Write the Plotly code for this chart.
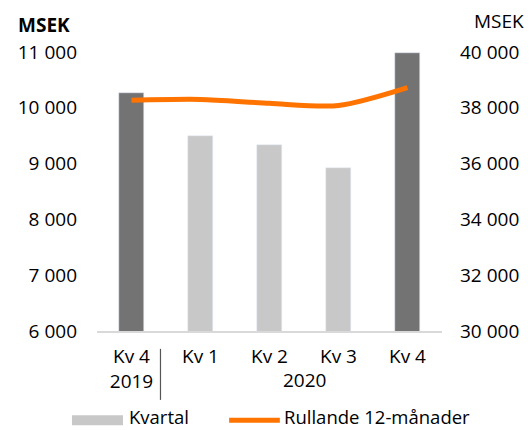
import plotly.graph_objects as go

categories = ["Kv 4<br>2019", "Kv 1", "Kv 2", "Kv 3", "Kv 4"]
year_label_2020 = "2020"
kvartal = [10270, 9500, 9330, 8920, 10990]
rullande = [38270, 38300, 38160, 38080, 38720]
bar_colors = ["#737373", "#c8c8c8", "#c8c8c8", "#c8c8c8", "#737373"]
left_ticks = [6000, 7000, 8000, 9000, 10000, 11000]
right_ticks = [30000, 32000, 34000, 36000, 38000, 40000]

def fmt(v):
    return f"{v:,}".replace(",", " ")

FONT = "Open Sans"
FS = 19
x_idx = list(range(len(categories)))

fig = go.Figure()
fig.add_trace(go.Bar(x=x_idx, y=kvartal, marker_color=bar_colors, width=0.36,
                     name="Kvartal", showlegend=False))
fig.add_trace(go.Scatter(x=x_idx, y=rullande, yaxis="y2", mode="lines",
                         line=dict(color="#ff7300", width=5, shape="spline", smoothing=0.8),
                         name="Rullande 12-månader", showlegend=False))

fig.update_layout(
    width=531, height=430,
    margin=dict(l=97, r=89, t=52, b=99, autoexpand=False),
    showlegend=False,
    paper_bgcolor="white", plot_bgcolor="white",
    font=dict(family=FONT, size=FS, color="#000000"),
    xaxis=dict(range=[-0.5, 4.5], tickvals=x_idx, ticktext=categories,
               showline=True, linecolor="#d9d9d9", linewidth=2, automargin=False,
               showgrid=False, zeroline=False, ticks="", ticklabelstandoff=7,
               fixedrange=True),
    yaxis=dict(range=[6000, 11000], tickvals=left_ticks, automargin=False,
               ticktext=[fmt(v) for v in left_ticks],
               showgrid=False, zeroline=False, showline=False,
               ticklabelstandoff=19),
    yaxis2=dict(range=[30000, 40000], tickvals=right_ticks, automargin=False,
                ticktext=[fmt(v) for v in right_ticks],
                overlaying="y", side="right",
                showgrid=False, zeroline=False, showline=False,
                ticklabelstandoff=17),
    bargap=0,
)

annotations = [
    dict(text="<b>MSEK</b>", xref="paper", yref="paper", x=-0.235, y=1.095,
         xanchor="left", yanchor="middle", showarrow=False, font=dict(size=FS)),
    dict(text="MSEK", xref="paper", yref="paper", x=1.244, y=1.111,
         xanchor="right", yanchor="middle", showarrow=False, font=dict(size=FS)),
    dict(text=year_label_2020, xref="x", yref="paper", x=2.5, y=-0.176,
         xanchor="center", yanchor="middle", showarrow=False, font=dict(size=FS)),
    dict(text="Kvartal", xref="paper", yref="paper", x=0.088, y=-0.308,
         xanchor="left", yanchor="middle", showarrow=False, font=dict(size=18.5)),
    dict(text="Rullande 12-månader", xref="paper", yref="paper", x=0.536, y=-0.308,
         xanchor="left", yanchor="middle", showarrow=False, font=dict(size=18.5)),
]
fig.update_layout(annotations=annotations)

shapes = [
    dict(type="line", xref="x", yref="paper", x0=0.42, x1=0.42, y0=-0.064, y1=-0.247,
         line=dict(color="#555555", width=1.2)),
    dict(type="rect", xref="paper", yref="paper", x0=-0.0725, x1=0.0754,
         y0=-0.302, y1=-0.338, fillcolor="#c8c8c8", line=dict(width=0)),
    dict(type="line", xref="paper", yref="paper", x0=0.383, x1=0.53,
         y0=-0.32, y1=-0.32, line=dict(color="#ff7300", width=5, )),
]
fig.update_layout(shapes=shapes)

fig.write_html("out.html", config={"displayModeBar": False},
               post_script="document.body.style.margin='0';document.body.style.overflow='hidden';")
